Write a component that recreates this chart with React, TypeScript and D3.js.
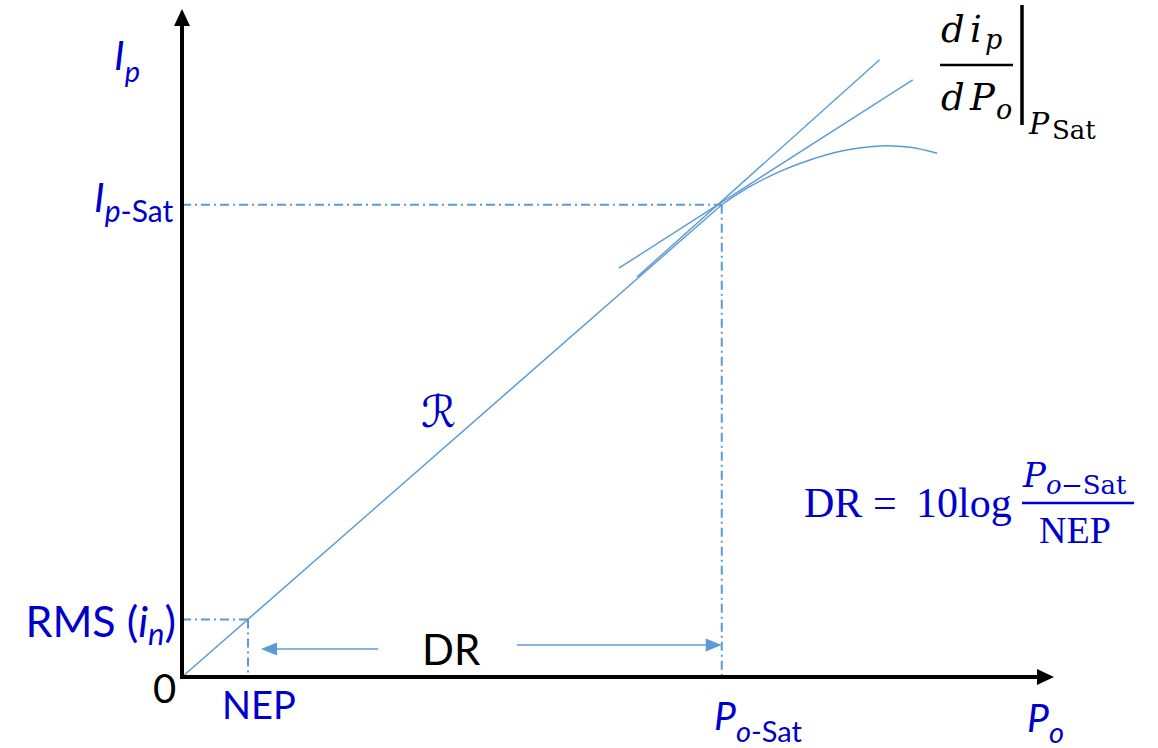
import React from "react"
import * as d3 from "d3"

// photodetector response: optical power Po vs photocurrent Ip (arbitrary units)
const nepPo = 0.757
const rmsNoise = 0.86
const satPo = 6.19
const satIp = 7.07

// saturating part of the response, past P_o-Sat
const satCurvePo = [6.19, 6.51, 6.86, 7.2, 7.55, 8.0, 8.35, 8.66]
const satCurveIp = [7.07, 7.34, 7.57, 7.74, 7.87, 7.95, 7.93, 7.84]

// linear extension of R and tangent di/dP at saturation
const linearExt: [number, number][] = [[5.22, 5.99], [8.0, 9.24]]
const tangentAtSat: [number, number][] = [[5.01, 6.12], [8.38, 8.94]]

// dynamic range arrows (level, start, tip)
const drLeft = { ip: 0.42, from: 2.25, to: 0.906 }
const drRight = { ip: 0.48, from: 3.84, to: satPo }

const lineBlue = "#5B9BD5"
const textBlue = "#0000CC"
const sans = "Lato, 'Open Sans', sans-serif"
const serif = "'Liberation Serif', 'DejaVu Serif', serif"
const mathSerif = "'DejaVu Serif', serif"

export default function App() {
  const x = d3.scaleLinear().domain([0, 10]).range([182, 1054])
  const y = d3.scaleLinear().domain([0, 10]).range([677, 9])

  const line = d3.line<[number, number]>().x(d => x(d[0])).y(d => y(d[1]))
  const curve = d3
    .line<[number, number]>()
    .x(d => x(d[0]))
    .y(d => y(d[1]))
    .curve(d3.curveCatmullRom)

  const satCurve = satCurvePo.map((p, i) => [p, satCurveIp[i]] as [number, number])
  const dashDot = "9 4 2 4"

  // arrowhead pointing from (x1,y1) to tip (x2,y2)
  const head = (x1: number, y1: number, x2: number, y2: number, len: number, half: number) => {
    const a = Math.atan2(y2 - y1, x2 - x1)
    const bx = x2 - len * Math.cos(a)
    const by = y2 - len * Math.sin(a)
    const nx = -Math.sin(a) * half
    const ny = Math.cos(a) * half
    return `M${x2},${y2}L${bx + nx},${by + ny}L${bx - nx},${by - ny}Z`
  }

  const x0 = x(0)
  const y0 = y(0)

  return (
    <svg
      width={1158}
      height={748}
      style={{ position: "absolute", left: 0, top: 0, background: "#fff" }}
    >
      {/* dash-dot guides */}
      <g stroke={lineBlue} strokeWidth={2} strokeDasharray={dashDot} fill="none">
        <line x1={x0} x2={x(nepPo)} y1={y(rmsNoise)} y2={y(rmsNoise)} />
        <line x1={x(nepPo)} x2={x(nepPo)} y1={y(rmsNoise)} y2={y0} />
        <line x1={x0} x2={x(satPo)} y1={y(satIp)} y2={y(satIp)} />
        <line x1={x(satPo)} x2={x(satPo)} y1={y(satIp)} y2={y0} />
      </g>

      {/* response */}
      <g stroke={lineBlue} strokeWidth={1.4} fill="none">
        <path d={line([[0, 0], [satPo, satIp]]) || ""} />
        <path d={curve(satCurve) || ""} />
        <path d={line(linearExt) || ""} />
        <path d={line(tangentAtSat) || ""} />
      </g>

      {/* DR arrows */}
      <g stroke={lineBlue} strokeWidth={1.5}>
        <line x1={x(drLeft.from)} x2={x(drLeft.to) + 12} y1={y(drLeft.ip)} y2={y(drLeft.ip)} />
        <line x1={x(drRight.from)} x2={x(drRight.to) - 12} y1={y(drRight.ip)} y2={y(drRight.ip)} />
      </g>
      <path d={head(x(drLeft.from), y(drLeft.ip), x(drLeft.to), y(drLeft.ip), 16, 6.5)} fill={lineBlue} />
      <path d={head(x(drRight.from), y(drRight.ip), x(drRight.to), y(drRight.ip), 16, 6.5)} fill={lineBlue} />

      {/* axes */}
      <g stroke="#000" strokeWidth={4}>
        <line x1={x0} x2={x0} y1={y0 + 2} y2={y(10) + 14} />
        <line x1={x0 - 2} x2={x(10) - 14} y1={y0} y2={y0} />
      </g>
      <path d={head(x0, y0, x0, y(10), 17, 8)} fill="#000" />
      <path d={head(x0, y0, x(10), y0, 17, 8)} fill="#000" />

      {/* axis labels */}
      <g fontFamily={sans} fill={textBlue}>
        <text x={114} y={70} fontSize={40} fontStyle="italic">
          I<tspan dy={12} fontSize={29}>p</tspan>
        </text>
        <text x={94} y={212} fontSize={40} fontStyle="italic">
          I
          <tspan dy={10} fontSize={30}>p</tspan>
          <tspan fontSize={30} fontStyle="normal">-Sat</tspan>
        </text>
        <text x={176} y={637} fontSize={43} textAnchor="end">
          RMS (<tspan fontStyle="italic">i</tspan>
          <tspan dy={8} fontSize={31} fontStyle="italic">n</tspan>
          <tspan dy={-8}>)</tspan>
        </text>
        <text x={222} y={719} fontSize={38}>NEP</text>
        <text x={714} y={730} fontSize={39} fontStyle="italic">
          P<tspan dy={12} fontSize={29}>o</tspan>
          <tspan fontSize={29} fontStyle="normal">-Sat</tspan>
        </text>
        <text x={1027} y={732} fontSize={39} fontStyle="italic">
          P<tspan dy={11} fontSize={29}>o</tspan>
        </text>
      </g>
      <text x={153} y={703} fontSize={40} fontFamily={sans} fill="#000">0</text>
      <text x={422} y={665} fontSize={42} fontFamily={sans} fill="#000">DR</text>
      <text x={421} y={427} fontSize={44} fontFamily="'DejaVu Serif', 'DejaVu Sans', serif" fill={textBlue}>
        ℛ
      </text>

      {/* derivative at saturation */}
      <g fontFamily={mathSerif} fontStyle="italic" fill="#000">
        <text x={941} y={42} fontSize={37}>d</text>
        <text x={970} y={42} fontSize={37}>i</text>
        <text x={985} y={49} fontSize={27}>p</text>
        <text x={941} y={110} fontSize={37}>d</text>
        <text x={970} y={110} fontSize={37}>P</text>
        <text x={996} y={119} fontSize={27}>o</text>
        <text x={1029} y={134} fontSize={30}>P</text>
        <text x={1052} y={139} fontSize={26} fontStyle="normal">Sat</text>
      </g>
      <line x1={940} x2={1013} y1={65} y2={65} stroke="#000" strokeWidth={2.5} />
      <line x1={1022} x2={1022} y1={5} y2={125} stroke="#000" strokeWidth={3.5} />

      {/* dynamic range formula */}
      <g fontFamily={serif} fill={textBlue}>
        <text x={804} y={517} fontSize={42}>DR</text>
        <text x={873} y={517} fontSize={42}>=</text>
        <text x={916} y={517} fontSize={42}>10log</text>
        <text x={1023} y={487} fontSize={34} fontFamily={mathSerif} fontStyle="italic">P</text>
        <text x={1046} y={494} fontSize={26} fontFamily={mathSerif} fontStyle="italic">o</text>
        <text x={1061} y={494} fontSize={26} fontFamily={mathSerif}>−Sat</text>
        <text x={1039} y={543} fontSize={38}>NEP</text>
      </g>
      <line x1={1022} x2={1134} y1={503} y2={503} stroke={textBlue} strokeWidth={2.5} />
    </svg>
  )
}
